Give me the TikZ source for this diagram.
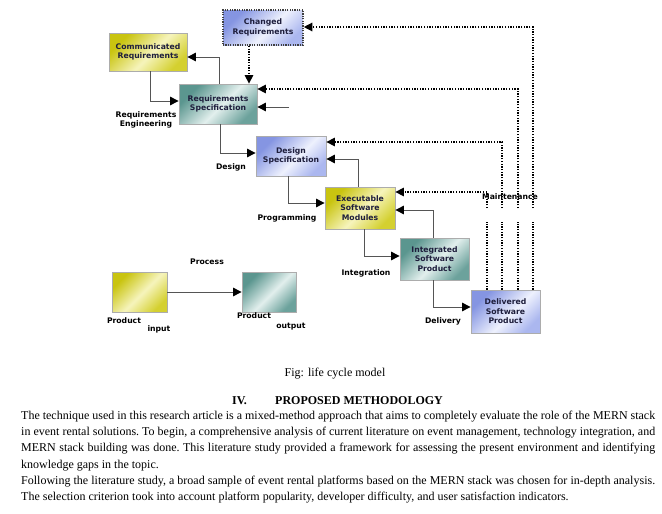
\documentclass[tikz,border=0pt]{standalone}
\usepackage{fontspec}
\setmainfont{Liberation Serif}
\newfontfamily\boxfont{DejaVu Sans}
\usetikzlibrary{arrows.meta}
\definecolor{yelA}{HTML}{C9C410}
\definecolor{yelM}{HTML}{F6F4BC}
\definecolor{yelB}{HTML}{D4D030}
\definecolor{tealA}{HTML}{5B968F}
\definecolor{tealM}{HTML}{E2EFED}
\definecolor{tealB}{HTML}{6CA29C}
\definecolor{bluA}{HTML}{8595E2}
\definecolor{bluM}{HTML}{EEF1FD}
\definecolor{bluB}{HTML}{ABB7EF}
\definecolor{boxtxt}{HTML}{1E1E3C}
\definecolor{conn}{HTML}{555555}
\pgfdeclarehorizontalshading{yelsh}{100bp}{color(0bp)=(yelA); color(27bp)=(yelA); color(53bp)=(yelM); color(75bp)=(yelB); color(100bp)=(yelB)}
\pgfdeclarehorizontalshading{tealsh}{100bp}{color(0bp)=(tealA); color(27bp)=(tealA); color(53bp)=(tealM); color(75bp)=(tealB); color(100bp)=(tealB)}
\pgfdeclarehorizontalshading{blush}{100bp}{color(0bp)=(bluA); color(27bp)=(bluA); color(55bp)=(bluM); color(75bp)=(bluB); color(100bp)=(bluB)}
\begin{document}
\begin{tikzpicture}[x=1pt,y=-1pt,
  every node/.style={inner sep=0pt},
  boxbase/.style={draw=gray!65, line width=0.8pt, align=center, text=boxtxt,
    font=\boxfont\bfseries\fontsize{7.7}{9.4}\selectfont, shade, shading angle=-45},
  yelbox/.style={boxbase, shading=yelsh},
  tealbox/.style={boxbase, shading=tealsh},
  blubox/.style={boxbase, shading=blush},
  lbl/.style={align=center, font=\boxfont\bfseries\fontsize{7.7}{9.4}\selectfont},
  arr/.style={draw=conn, line width=1pt, -{Triangle[length=8.5pt,width=8.5pt,fill=black,color=black]}},
  dots/.style={draw=black, line width=1.3pt, dash pattern=on 1.3pt off 1.4pt},
  darr/.style={dots, -{Triangle[length=8.5pt,width=8.5pt,fill=black]}},
]
\useasboundingbox (0,0) rectangle (662,514);

% boxes
\node[blubox, minimum width=80pt, minimum height=35pt, draw=black!75, line width=1.6pt,
      dash pattern=on 1.2pt off 1.2pt] (chg) at (263,27.5) {Changed\\Requirements};
\node[yelbox, minimum width=78pt, minimum height=38pt] (comm) at (148,52) {Communicated\\Requirements};
\node[tealbox, minimum width=78pt, minimum height=40pt] (req) at (218,104) {Requirements\\Specification};
\node[blubox, minimum width=70pt, minimum height=40pt] (des) at (291,156) {Design\\Specification};
\node[yelbox, minimum width=70pt, minimum height=42pt] (exe) at (360,208) {Executable\\Software\\Modules};
\node[tealbox, minimum width=69pt, minimum height=42pt] (intg) at (434.5,259) {Integrated\\Software\\Product};
\node[blubox, minimum width=69pt, minimum height=43pt] (dlv) at (505.5,311.5) {Delivered\\Software\\Product};
\node[yelbox, minimum width=55pt, minimum height=40pt] (pin) at (139.5,292) {};
\node[tealbox, minimum width=54pt, minimum height=40pt] (pout) at (269,292) {};

% labels
\node[lbl] (lre) at (146,120) {Requirements\\Engineering};
\node[lbl] (ldes) at (231,167) {Design};
\node[lbl] (lprog) at (287,218) {Programming};
\node[lbl] (lint) at (366,273) {Integration};
\node[lbl] (ldel) at (443,321) {Delivery};
\node[lbl] (lproc) at (207,262) {Process};
\node[lbl] (lpi) at (124,321) {Product};
\node[lbl] (lin) at (159,329) {input};
\node[lbl] (lpo) at (254,316) {Product};
\node[lbl] (lout) at (291,327) {output};

% solid connectors
\draw[arr] (req.north -| 219,0) |- (comm.east |- 0,57);
\draw[arr] (comm.south -| 150,0) |- (req.west |- 0,101);
\coordinate (fin) at (289,107);
\draw[arr] (fin) -- (req.east |- fin);
\draw[arr] (req.south -| 220,0) |- (des.west |- 0,153);
\draw[arr] (exe.north -| 358,0) |- (des.east |- 0,159);
\draw[arr] (des.south -| 288,0) |- (exe.west |- 0,203);
\draw[arr] (exe.south -| 364,0) |- (intg.west |- 0,256);
\draw[arr] (intg.north -| 433,0) |- (exe.east |- 0,210);
\draw[arr] (intg.south -| 433,0) |- (dlv.west |- 0,307);
\draw[arr] (pin.east) -- (pout.west);

% dotted connectors
\draw[darr] (chg.south -| 249,0) -- (req.north -| 249,0);
\coordinate (g1t) at (487,208); \coordinate (g1b) at (487,222);
\coordinate (g2t) at (502,208); \coordinate (g2b) at (502,222);
\coordinate (g3t) at (518,208); \coordinate (g3b) at (518,222);
\coordinate (g4t) at (533,208); \coordinate (g4b) at (533,222);
\draw[dots] (dlv.north -| g1b) -- (g1b);
\draw[dots] (dlv.north -| g2b) -- (g2b);
\draw[dots] (dlv.north -| g3b) -- (g3b);
\draw[dots] (dlv.north -| g4b) -- (g4b);
\draw[darr] (g1t) |- (exe.east |- 0,192);
\draw[darr] (g2t) |- (des.east |- 0,142);
\draw[darr] (g3t) |- (req.east |- 0,89);
\draw[darr] (g4t) |- (chg.east |- 0,27);
\node[lbl] (lmain) at (510,197) {Maintenance};

% text
\node[anchor=base, font=\fontsize{12}{14}\selectfont] (cap) at (335,376) {Fig: life cycle model};
\node[anchor=base west, font=\bfseries\fontsize{12}{14}\selectfont] (h1) at (232,404) {IV.};
\node[anchor=base west, font=\bfseries\fontsize{12}{14}\selectfont] (h2) at (275,404) {PROPOSED METHODOLOGY};
\node[anchor=north west, text width=634pt, align=justify, font=\frenchspacing\fontsize{12}{16.3}\selectfont] (body) at (21,410.5)
{The technique used in this research article is a mixed-method approach that aims to completely evaluate the role of the MERN stack
in event rental solutions. To begin, a comprehensive analysis of current literature on event management, technology integration, and
MERN stack building was done. This literature study provided a framework for assessing the present environment and identifying
knowledge gaps in the topic.\par
Following the literature study, a broad sample of event rental platforms based on the MERN stack was chosen for in-depth analysis.
The selection criterion took into account platform popularity, developer difficulty, and user satisfaction indicators.};
\end{tikzpicture}
\end{document}
